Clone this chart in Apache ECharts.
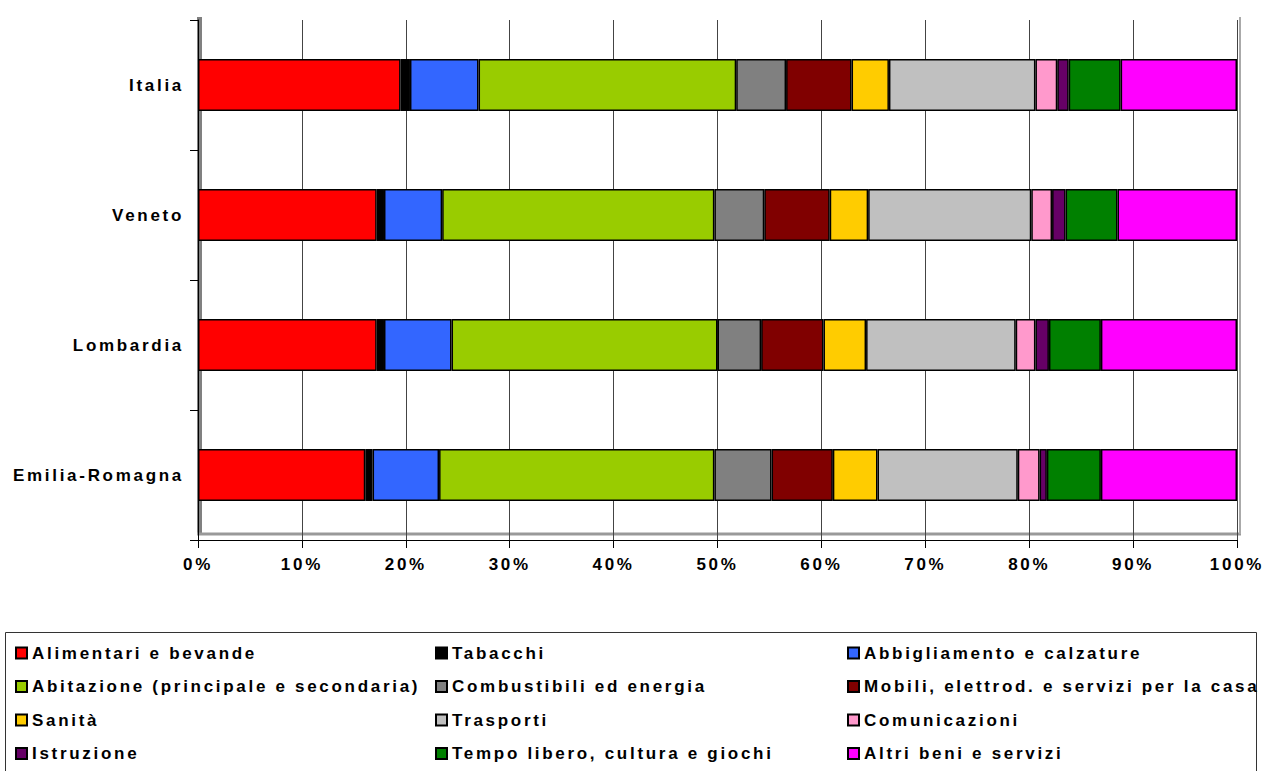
<!DOCTYPE html>
<html>
<head>
<meta charset="utf-8">
<script src="https://cdn.jsdelivr.net/npm/echarts@6/dist/echarts.min.js"></script>
<style>
  html, body { margin: 0; padding: 0; background: #fff; }
  #main { width: 1264px; height: 771px; }
  /* Excel-style spaced bold text */
  #main text { letter-spacing: 2.7px; }
</style>
</head>
<body>
<div id="main"></div>
<script>
// regions, top to bottom
const regions = ['Italia', 'Veneto', 'Lombardia', 'Emilia-Romagna'];

// spending categories (series), in stacking order
const categories = [
  'Alimentari e bevande', 'Tabacchi', 'Abbigliamento e calzature',
  'Abitazione (principale e secondaria)', 'Combustibili ed energia', 'Mobili, elettrod. e servizi per la casa',
  'Sanità', 'Trasporti', 'Comunicazioni',
  'Istruzione', 'Tempo libero, cultura e giochi', 'Altri beni e servizi'
];

const colors = [
  '#ff0000', '#000000', '#3366ff',
  '#99cc00', '#808080', '#800000',
  '#ffcc00', '#c0c0c0', '#ff99cc',
  '#660066', '#008000', '#ff00ff'
];

// share of spending (%) per region, same order as categories
const italia    = [19.5, 0.9, 6.6, 24.8, 4.8, 6.3, 3.6, 14.1, 2.1, 1.1, 5.0, 11.2];
const veneto    = [17.2, 0.7, 5.6, 26.2, 4.8, 6.3, 3.7, 15.7, 2.0, 1.3, 5.0, 11.5];
const lombardia = [17.2, 0.7, 6.5, 25.6, 4.2, 6.0, 4.1, 14.4, 1.9, 1.3, 5.0, 13.1];
const emilia    = [16.1, 0.7, 6.4, 26.5, 5.5, 5.9, 4.3, 13.5, 2.1, 0.7, 5.2, 13.1];

const xTicks = [0, 10, 20, 30, 40, 50, 60, 70, 80, 90, 100];

const rows = [italia, veneto, lombardia, emilia];

const font = { fontFamily: 'Liberation Sans, Arial, sans-serif', fontWeight: 'bold', fontSize: 17, color: '#000' };

const series = categories.map((name, i) => ({
  name: name,
  type: 'bar',
  stack: 'tot',
  barWidth: '40%',
  itemStyle: { color: colors[i], borderColor: '#000', borderWidth: 1.5 },
  data: rows.map(r => r[i])
}));

function legendCol(left, idx) {
  return {
    orient: 'vertical',
    left: left,
    top: 643,
    padding: 0,
    itemWidth: 11,
    itemHeight: 11,
    itemGap: 13.5,
    icon: 'rect',
    selectedMode: false,
    textStyle: Object.assign({}, font, { lineHeight: 20 }),
    data: idx.map(i => categories[i])
  };
}

let myChart = echarts.init(document.getElementById('main'), null, { renderer: 'svg' });
myChart.setOption({
  animation: false,
  backgroundColor: '#fff',
  grid: { left: 198, right: 27, top: 20, bottom: 231 },
  xAxis: {
    type: 'value',
    min: xTicks[0],
    max: xTicks[xTicks.length - 1],
    interval: 10,
    axisLine: { show: true, lineStyle: { color: '#000', width: 1 } },
    axisTick: { show: true, length: 8, lineStyle: { color: '#000' } },
    axisLabel: Object.assign({}, font, { margin: 16, formatter: '{value}%' }),
    splitLine: { show: true, lineStyle: { color: '#444', width: 1 } }
  },
  yAxis: {
    type: 'category',
    inverse: true,
    data: regions,
    offset: 10,
    axisLine: { show: true, lineStyle: { color: '#000', width: 1 } },
    axisTick: { show: true, length: 8, lineStyle: { color: '#000' } },
    axisLabel: Object.assign({}, font, { margin: 4 })
  },
  legend: [
    legendCol(15, [0, 3, 6, 9]),
    legendCol(435, [1, 4, 7, 10]),
    legendCol(847, [2, 5, 8, 11])
  ],
  graphic: [
    // 3D side wall and floor of the plot
    { type: 'rect', z: -1, shape: { x: 197, y: 17, width: 5, height: 518 }, style: { fill: '#808080' } },
    { type: 'line', z: -1, shape: { x1: 197, y1: 534, x2: 1241, y2: 534 }, style: { stroke: '#999', lineWidth: 3 } },
    { type: 'line', z: -1, shape: { x1: 1240, y1: 17, x2: 1240, y2: 534 }, style: { stroke: '#aaa', lineWidth: 2 } },
    // legend frame
    { type: 'rect', shape: { x: 5.5, y: 632.5, width: 1251, height: 150 }, style: { fill: 'none', stroke: '#333', lineWidth: 1 } }
  ],
  series: series
});
</script>
</body>
</html>
